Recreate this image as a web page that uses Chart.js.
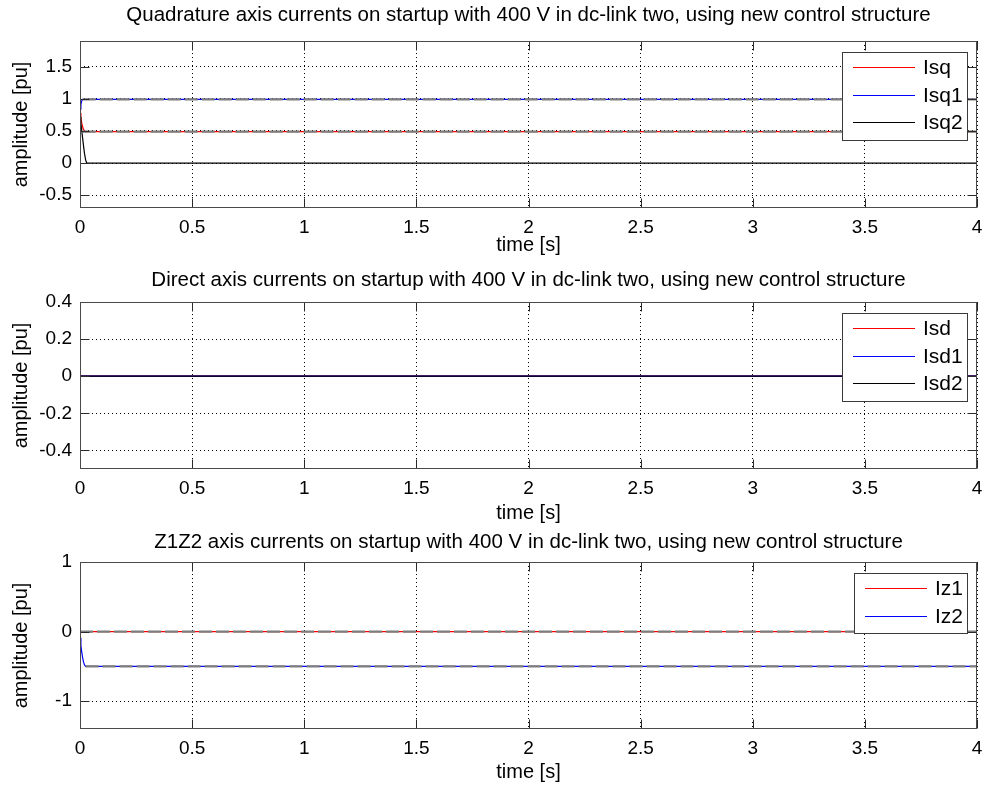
<!DOCTYPE html>
<html>
<head>
<meta charset="utf-8">
<script src="https://cdn.jsdelivr.net/npm/chart.js@4.4.1/dist/chart.umd.min.js"></script>
<style>
  html, body { margin: 0; padding: 0; background: #fff; }
  body { width: 986px; height: 787px; position: relative; overflow: hidden; }
  canvas { position: absolute; left: 0; }
</style>
</head>
<body>
<canvas id="cq" width="986" height="261" style="top:0px"></canvas>
<canvas id="cd" width="986" height="264" style="top:261px"></canvas>
<canvas id="cz" width="986" height="266" style="top:521px"></canvas>
<script>
// ---- time axis ----
const xTicks = [0, 0.5, 1, 1.5, 2, 2.5, 3, 3.5, 4];

// ---- quadrature axis currents ----
const titleQ = 'Quadrature axis currents on startup with 400 V in dc-link two, using new control structure';
const tQ   = [0, 0.004, 0.008, 0.012, 0.016, 0.02, 0.025, 0.03, 4];
const isq  = [0.78, 0.70, 0.62, 0.56, 0.52, 0.50, 0.49, 0.49, 0.49];
const isq1 = [0.84, 0.91, 0.97, 0.99, 0.99, 0.99, 0.99, 0.99, 0.99];
const isq2 = [0.72, 0.62, 0.50, 0.38, 0.26, 0.15, 0.05, 0.0, 0.0];
const tQRef   = [0.012, 4];
const isqRef  = [0.49, 0.49];
const isq1Ref = [0.99, 0.99];
const yTicksQ = [-0.5, 0, 0.5, 1, 1.5];

// ---- direct axis currents ----
const titleD = 'Direct axis currents on startup with 400 V in dc-link two, using new control structure';
const tD   = [0, 4];
const isd  = [0, 0];
const isd1 = [0, 0];
const isd2 = [0, 0];
const yTicksD = [-0.4, -0.2, 0, 0.2, 0.4];

// ---- Z1Z2 axis currents ----
const titleZ = 'Z1Z2 axis currents on startup with 400 V in dc-link two, using new control structure';
const tZ  = [0, 0.004, 0.008, 0.012, 0.016, 0.02, 0.025, 4];
const iz1 = [0, 0, 0, 0, 0, 0, 0, 0];
const iz2 = [-0.09, -0.20, -0.30, -0.38, -0.44, -0.48, -0.50, -0.50];
const tZRef1 = [0, 4];
const iz1Ref = [0, 0];
const tZRef2 = [0.025, 4];
const iz2Ref = [-0.5, -0.5];
const yTicksZ = [-1, 0, 1];

const RED = 'rgb(255,0,0)', BLUE = 'rgb(0,0,255)', BLACK = 'rgb(0,0,0)', GREY = 'rgb(125,125,125)';
const FONT = '"Liberation Sans", Arial, Helvetica, sans-serif';

const pts = (xs, ys) => xs.map((x, i) => ({ x, y: ys[i] }));

function series(label, xs, ys, color, extra) {
  return Object.assign({
    label, data: pts(xs, ys), borderColor: color, backgroundColor: color, lineColor: color,
    borderWidth: 1.2, pointRadius: 0, fill: false, tension: 0, showLine: true
  }, extra || {});
}
function overlay(xs, ys) {
  // steady-state trace laid over the coloured line
  return series('', xs, ys, GREY, { borderWidth: 2.2, borderDash: [13, 4], inLegend: false });
}
// later entries are painted on top of earlier ones
function stack(list) {
  list.forEach((d, i) => { d.order = list.length - i; });
  return list;
}

// title centred over the axes box
const axesTitle = {
  id: 'axesTitle',
  afterDraw(chart, args, opts) {
    const { ctx, chartArea: a } = chart;
    ctx.save();
    ctx.font = '20.5px ' + FONT;
    ctx.fillStyle = '#000';
    ctx.textAlign = 'center';
    ctx.textBaseline = 'middle';
    ctx.fillText(opts.text, (a.left + a.right) / 2, opts.y);
    ctx.restore();
  }
};

// axes box with inward tick marks
const frame = {
  id: 'frame',
  afterDatasetsDraw(chart) {
    const { ctx, chartArea: a, scales: { x, y } } = chart;
    const L = Math.round(a.left) + 0.5, R = Math.round(a.right) - 0.5;
    const T = Math.round(a.top) + 0.5, B = Math.round(a.bottom) - 0.5;
    ctx.save();
    ctx.setLineDash([]);
    ctx.strokeStyle = '#2a2a2a';
    ctx.lineWidth = 1;
    ctx.beginPath();
    const len = 9;
    for (const t of x.ticks) {
      const px = Math.round(x.getPixelForValue(t.value)) + 0.5;
      ctx.moveTo(px, T); ctx.lineTo(px, T + len);
      ctx.moveTo(px, B); ctx.lineTo(px, B - len);
    }
    for (const t of y.ticks) {
      const py = Math.round(y.getPixelForValue(t.value)) + 0.5;
      ctx.moveTo(L, py); ctx.lineTo(L + len, py);
      ctx.moveTo(R, py); ctx.lineTo(R - len, py);
    }
    ctx.stroke();
    ctx.strokeStyle = '#4a4a4a';
    ctx.strokeRect(L, T, R - L, B - T);
    ctx.restore();
  }
};

// boxed legend inside the upper right corner of the axes
const boxLegend = {
  id: 'boxLegend',
  afterDraw(chart) {
    const { ctx, chartArea: a } = chart;
    const items = chart.data.datasets.filter(d => d.inLegend !== false);
    ctx.save();
    ctx.setLineDash([]);
    ctx.font = '21px ' + FONT;
    const tw = Math.max(...items.map(d => ctx.measureText(d.label).width));
    const rowH = 27.5;
    const w = Math.round(81 + tw + 4);
    const h = Math.round(items.length * rowH + 5);
    const right = Math.round(a.right) - 10;
    const left = right - w;
    const top = Math.round(a.top) + 11;
    ctx.fillStyle = '#fff';
    ctx.fillRect(left, top, w, h);
    ctx.strokeStyle = '#3a3a3a';
    ctx.lineWidth = 1;
    ctx.strokeRect(left + 0.5, top + 0.5, w, h);
    ctx.textBaseline = 'middle';
    ctx.textAlign = 'left';
    items.forEach((d, i) => {
      const cy = Math.round(top + 15 + i * rowH);
      ctx.fillStyle = d.lineColor;
      ctx.fillRect(left + 11, cy, 62, 1);
      ctx.fillStyle = '#000';
      ctx.fillText(d.label, left + 81, cy + 1);
    });
    ctx.restore();
  }
};

function makeChart(id, title, datasets, yMin, yMax, yTicks, xAxisH, titleY, xTitlePad) {
  const tickFont = { family: FONT, size: 19 };
  new Chart(document.getElementById(id), {
    type: 'line',
    data: { datasets: stack(datasets) },
    plugins: [frame, boxLegend, axesTitle],
    options: {
      responsive: false,
      animation: false,
      devicePixelRatio: 1,
      layout: { padding: { left: 0, right: 9, top: 41, bottom: 0 } },
      plugins: {
        legend: { display: false },
        tooltip: { enabled: false },
        title: { display: false },
        axesTitle: { text: title, y: titleY }
      },
      scales: {
        x: {
          type: 'linear', min: 0, max: 4,
          afterBuildTicks: s => { s.ticks = xTicks.map(v => ({ value: v })); },
          afterFit: s => { s.height = xAxisH; s.paddingLeft = 0; s.paddingRight = 0; },
          ticks: { color: '#000', font: tickFont, padding: 8, maxRotation: 0, autoSkip: false,
                   callback: v => String(v) },
          grid: { color: '#000', lineWidth: 1, drawTicks: false },
          border: { display: false, dash: [1, 3] },
          title: { display: true, text: 'time [s]', color: '#000',
                   font: { family: FONT, size: 20, lineHeight: 1.2 }, padding: { top: 0, bottom: xTitlePad } }
        },
        y: {
          type: 'linear', min: yMin, max: yMax,
          afterBuildTicks: s => { s.ticks = yTicks.map(v => ({ value: v })); },
          afterFit: s => { s.width = 80; s.paddingTop = 0; s.paddingBottom = 0; },
          ticks: { color: '#000', font: tickFont, padding: 8, autoSkip: false,
                   callback: v => String(v) },
          grid: { color: '#000', lineWidth: 1, drawTicks: false },
          border: { display: false, dash: [1, 3] },
          title: { display: true, text: 'amplitude [pu]', color: '#000',
                   font: { family: FONT, size: 20, lineHeight: 1.2 }, padding: { top: 9, bottom: 0 } }
        }
      }
    }
  });
}

makeChart('cq', titleQ, [
  series('Isq', tQ, isq, RED),
  series('Isq1', tQ, isq1, BLUE),
  series('Isq2', tQ, isq2, BLACK),
  overlay(tQRef, isqRef),
  overlay(tQRef, isq1Ref)
], -0.7, 1.9, yTicksQ, 53, 15, 4);

makeChart('cd', titleD, [
  series('Isd', tD, isd, RED),
  series('Isd1', tD, isd1, BLUE),
  series('Isd2', tD, isd2, BLACK)
], -0.5, 0.4, yTicksD, 56, 19, 0);

makeChart('cz', titleZ, [
  series('Iz1', tZ, iz1, RED),
  series('Iz2', tZ, iz2, BLUE),
  overlay(tZRef1, iz1Ref),
  overlay(tZRef2, iz2Ref)
], -1.4, 1, yTicksZ, 58, 21, 3);
</script>
</body>
</html>
